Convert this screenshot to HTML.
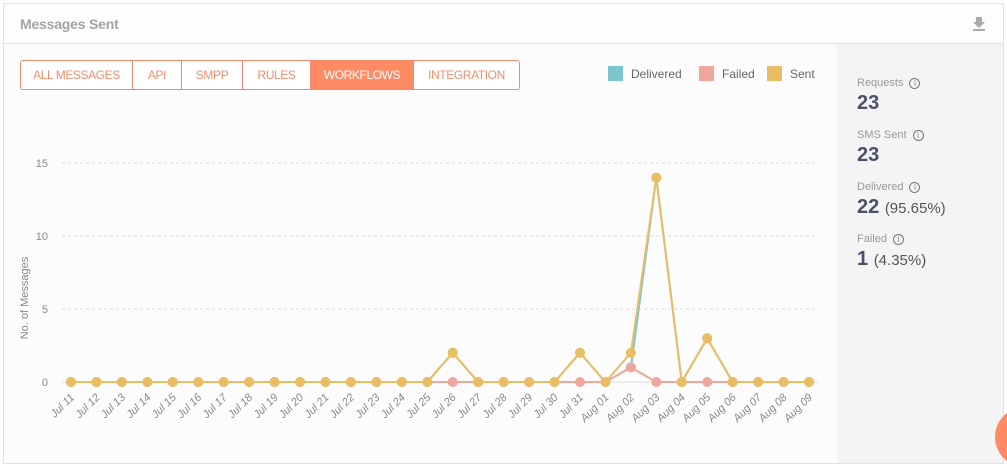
<!DOCTYPE html>
<html><head><meta charset="utf-8"><style>
body{margin:0;width:1007px;height:468px;background:#fff;font-family:"Liberation Sans",sans-serif;overflow:hidden;position:relative}
.card{position:absolute;left:3px;top:3px;width:999px;height:459px;border:1px solid #e2e2e2;background:#fcfcfc}
.hdr{position:absolute;left:0;top:0;width:999px;height:39px;border-bottom:1px solid #e2e2e2;background:#fdfdfd}
.title{position:absolute;left:16px;top:12px;font-size:14px;font-weight:bold;color:#a3a3a3;letter-spacing:-0.2px}
.tabs{position:absolute;left:16px;top:56px;display:flex;border:1px solid #f08a6a;border-radius:3px;overflow:hidden;height:28px}
.tab{font-size:12px;color:#ef8d6d;text-align:center;line-height:28px;border-right:1px solid #f08a6a;background:#fff;letter-spacing:-0.4px;box-sizing:border-box}
.tab:last-child{border-right:none}
.tab.on{background:#fe8b63;color:#fff}
.side{position:absolute;left:833px;top:40px;width:166px;height:419px;background:#f4f4f4}
.lab{position:absolute;left:20px;font-size:11px;color:#999}
.lab i{display:inline-block;width:9px;height:9px;border:1px solid #777;border-radius:50%;font-size:8px;line-height:9px;text-align:center;font-style:normal;color:#777;margin-left:6px;vertical-align:0}
.val{position:absolute;left:20px;font-size:20px;font-weight:bold;color:#4a5068}
.val span{font-weight:normal;font-size:15px;color:#555}
</style></head><body>
<div class="card">
<div class="hdr">
<div class="title">Messages Sent</div>
<svg style="position:absolute;left:968px;top:12px" width="14" height="16"><path d="M4 1h6v5h3L7 12 1 6h3z" fill="#aaa"/><rect x="1" y="13" width="12" height="2" fill="#aaa"/></svg>
</div>
<div class="tabs">
<div class="tab" style="width:112px">ALL MESSAGES</div>
<div class="tab" style="width:49px">API</div>
<div class="tab" style="width:61px">SMPP</div>
<div class="tab" style="width:68px">RULES</div>
<div class="tab on" style="width:103px">WORKFLOWS</div>
<div class="tab" style="width:105px">INTEGRATION</div>
</div>
<div class="side">
<div class="lab" style="top:33px">Requests<i>i</i></div>
<div class="val" style="top:48px">23</div>
<div class="lab" style="top:85px">SMS Sent<i>i</i></div>
<div class="val" style="top:100px">23</div>
<div class="lab" style="top:137px">Delivered<i>i</i></div>
<div class="val" style="top:152px">22 <span>(95.65%)</span></div>
<div class="lab" style="top:189px">Failed<i>i</i></div>
<div class="val" style="top:204px">1 <span>(4.35%)</span></div>
</div>
</div>
<svg id="chart" style="position:absolute;left:0;top:0" width="1007" height="468"></svg>
<div style="position:absolute;left:995px;top:407px;width:60px;height:60px;border-radius:50%;background:#fe8b63"></div>
<script>
const categories=["Jul 11","Jul 12","Jul 13","Jul 14","Jul 15","Jul 16","Jul 17","Jul 18","Jul 19","Jul 20","Jul 21","Jul 22","Jul 23","Jul 24","Jul 25","Jul 26","Jul 27","Jul 28","Jul 29","Jul 30","Jul 31","Aug 01","Aug 02","Aug 03","Aug 04","Aug 05","Aug 06","Aug 07","Aug 08","Aug 09"];
const delivered=[0,0,0,0,0,0,0,0,0,0,0,0,0,0,0,2,0,0,0,0,2,0,1,14,0,3,0,0,0,0];
const failed=[0,0,0,0,0,0,0,0,0,0,0,0,0,0,0,0,0,0,0,0,0,0,1,0,0,0,0,0,0,0];
const sent=[0,0,0,0,0,0,0,0,0,0,0,0,0,0,0,2,0,0,0,0,2,0,2,14,0,3,0,0,0,0];
const yTicks=[0,5,10,15];
const seriesNames=["Delivered","Failed","Sent"];
const colors=["#7ac6cc","#eea79b","#ebbd63"];
const svg=document.getElementById('chart');const NS='http://www.w3.org/2000/svg';
const x0=71,x1=809,yBase=382,yTop=163,yMax=15;
const xs=i=>x0+i*(x1-x0)/(categories.length-1);
const ys=v=>yBase-v*(yBase-yTop)/yMax;
function mk(t,a){const e=document.createElementNS(NS,t);for(const k in a)e.setAttribute(k,a[k]);svg.appendChild(e);return e;}
yTicks.forEach(v=>{
 if(v>0){const g=mk('line',{x1:62,x2:818,y1:ys(v),y2:ys(v),stroke:'#ddd','stroke-dasharray':'3,3'});
 
 }
 const t=mk('text',{x:48,y:ys(v)+4,'text-anchor':'end','font-size':11,fill:'#888','font-family':'Liberation Sans'});t.textContent=v;
 
 
});
const yt=mk('text',{transform:'translate(28,298) rotate(-90)','text-anchor':'middle','font-size':11,fill:'#888','font-family':'Liberation Sans'});yt.textContent='No. of Messages';


mk('line',{x1:62,x2:818,y1:yBase,y2:yBase,stroke:'#ddd'});
categories.forEach((c,i)=>{
 const t=mk('text',{transform:`translate(${xs(i)+4},${yBase+16}) rotate(-45)`,'text-anchor':'end','font-size':11,fill:'#888','font-style':'italic','font-family':'Liberation Sans'});t.textContent=c;
 
 
});
[delivered,failed,sent].forEach((s,k)=>{
 const p=mk('polyline',{points:s.map((v,i)=>xs(i)+','+ys(v)).join(' '),fill:'none',stroke:colors[k],'stroke-width':2});
 
 
 s.forEach((v,i)=>{const c=mk('circle',{cx:xs(i),cy:ys(v),r:5,fill:colors[k]});
 
 });
});
const lx=[608,699,767];
seriesNames.forEach((n,k)=>{
 const r=mk('rect',{x:lx[k],y:66,width:15,height:15,fill:colors[k]});
 
 
 const t=mk('text',{x:lx[k]+23,y:78,'font-size':12,fill:'#666','font-family':'Liberation Sans'});t.textContent=n;
 
 
});
</script>
</body></html>
